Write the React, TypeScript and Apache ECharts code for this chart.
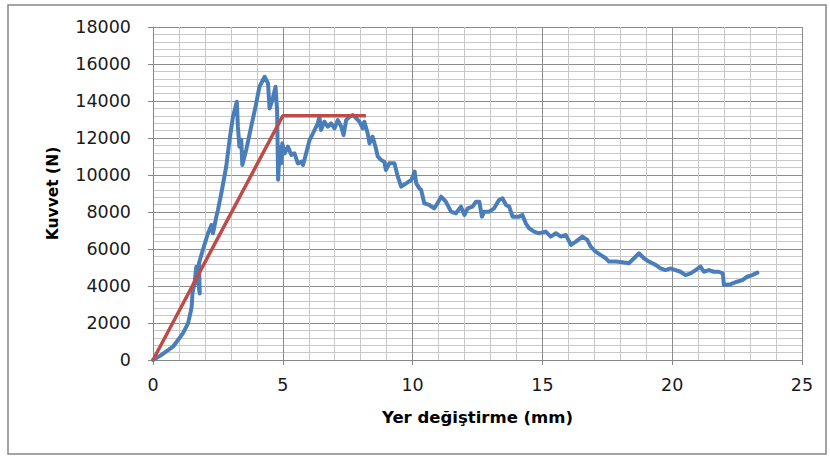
import React, { useEffect, useRef } from "react";
import * as echarts from "echarts";

const xTickLabels = ["0", "5", "10", "15", "20", "25"];
const yTickLabels = ["0", "2000", "4000", "6000", "8000", "10000", "12000", "14000", "16000", "18000"];

const blueX = [
  0, 0.3, 0.77, 1.0, 1.15, 1.35, 1.45, 1.49, 1.52, 1.6, 1.67, 1.72, 1.8, 1.77, 1.92, 2.12, 2.25, 2.31, 2.44, 2.5,
  2.63, 2.82, 2.95, 3.08, 3.23, 3.27, 3.33, 3.4, 3.44, 3.59, 3.78, 3.95, 4.1, 4.3, 4.43, 4.49, 4.6, 4.72, 4.78,
  4.82, 4.88, 4.94, 4.98, 5.07, 5.2, 5.33, 5.45, 5.58, 5.71, 5.78, 5.9, 6.03, 6.16, 6.35, 6.41, 6.47, 6.6, 6.73,
  6.86, 6.99, 7.12, 7.25, 7.34, 7.44, 7.57, 7.7, 7.83, 7.95, 8.08, 8.14, 8.27, 8.34, 8.46, 8.57, 8.66, 8.79, 8.91,
  8.97, 9.1, 9.3, 9.43, 9.56, 9.75, 9.95, 10.08, 10.14, 10.26, 10.33, 10.45, 10.64, 10.83, 10.96, 11.1, 11.28,
  11.48, 11.67, 11.86, 12.0, 12.12, 12.31, 12.44, 12.57, 12.67, 12.76, 12.95, 13.14, 13.33, 13.46, 13.6, 13.72,
  13.85, 14.1, 14.23, 14.36, 14.49, 14.68, 14.87, 15.13, 15.32, 15.52, 15.71, 15.9, 16.1, 16.29, 16.54, 16.73,
  16.86, 17.05, 17.24, 17.44, 17.56, 17.82, 18.08, 18.33, 18.53, 18.72, 18.91, 19.1, 19.36, 19.55, 19.74, 19.94,
  20.13, 20.32, 20.51, 20.71, 20.9, 21.09, 21.22, 21.41, 21.6, 21.79, 21.95, 21.99, 22.25, 22.5, 22.7, 22.89,
  23.08, 23.28,
];
const blueY = [
  0, 250, 720, 1150, 1440, 1980, 2600, 2880, 3600, 4150, 5040, 4400, 3600, 5230, 5950, 6850, 7300, 6850, 7750, 8100,
  9000, 10450, 11900, 13150, 13960, 12600, 11530, 11900, 10540, 11350, 12600, 13700, 14770, 15310, 14950, 13600,
  14050, 14770, 13500, 9750, 11500, 10630, 11710, 11170, 11530, 11080, 11170, 10630, 10720, 10540, 11170, 11890,
  12250, 12790, 13150, 12430, 12880, 12610, 12790, 12520, 12970, 12610, 12160, 12970, 13150, 13240, 13060, 12880,
  12520, 12880, 12250, 11710, 12070, 11530, 10990, 10810, 10720, 10270, 10630, 10630, 9910, 9370, 9550, 9730,
  10180, 9550, 9280, 9190, 8470, 8380, 8200, 8470, 8830, 8560, 8020, 7930, 8290, 7840, 8200, 8290, 8560, 8560,
  7750, 8020, 8020, 8200, 8650, 8740, 8380, 8290, 7750, 7750, 7840, 7390, 7120, 6940, 6850, 6940, 6670, 6850,
  6670, 6760, 6220, 6400, 6670, 6490, 6130, 5860, 5680, 5500, 5320, 5320, 5280, 5230, 5500, 5770, 5500, 5320,
  5140, 4950, 4860, 4950, 4860, 4770, 4590, 4680, 4860, 5050, 4770, 4860, 4770, 4770, 4680, 4050, 4100, 4230,
  4320, 4500, 4590, 4720,
];

const redX = [0, 5, 8.2];
const redY = [0, 13200, 13200];

export default function App() {
  const ref = useRef<HTMLDivElement>(null);
  useEffect(() => {
    document.body.style.margin = "0";
    const chart = echarts.init(ref.current!, null, { renderer: "svg" });
    const font = "'DejaVu Sans', 'Liberation Sans', sans-serif";
    const blueData = blueX.map((x, i) => [x, blueY[i]]);
    const redData = redX.map((x, i) => [x, redY[i]]);
    chart.setOption({
      animation: false,
      backgroundColor: "#ffffff",
      graphic: [
        {
          type: "rect",
          shape: { x: 8, y: 5, width: 818, height: 449 },
          style: { fill: "none", stroke: "#868686", lineWidth: 1.5 },
          silent: true,
        },
      ],
      grid: { left: 153, right: 28, top: 27, bottom: 99, containLabel: false },
      xAxis: {
        type: "value",
        min: 0,
        max: 25,
        interval: 5,
        name: "Yer değiştirme (mm)",
        nameLocation: "middle",
        nameGap: 49,
        nameTextStyle: { fontFamily: font, fontWeight: "bold", fontSize: 16.5, color: "#000" },
        axisLine: { show: true, lineStyle: { color: "#868686", width: 1 } },
        axisTick: { show: true, inside: false, length: 5, lineStyle: { color: "#868686" } },
        axisLabel: {
          fontFamily: font,
          fontSize: 17.5,
          color: "#1a1a1a",
          margin: 16,
          formatter: (v: number) => xTickLabels[Math.round(v / 5)] ?? String(v),
        },
        splitLine: { show: true, lineStyle: { color: "#8c8c8c", width: 1 } },
        minorTick: { show: false, splitNumber: 5 },
        minorSplitLine: { show: true, lineStyle: { color: "#c8c8c8", width: 1 } },
      },
      yAxis: {
        type: "value",
        min: 0,
        max: 18000,
        interval: 2000,
        name: "Kuvvet (N)",
        nameLocation: "middle",
        nameRotate: 90,
        nameGap: 92,
        nameTextStyle: { fontFamily: font, fontWeight: "bold", fontSize: 15.5, color: "#000" },
        axisLine: { show: true, lineStyle: { color: "#868686", width: 1 } },
        axisTick: { show: true, inside: false, length: 5, lineStyle: { color: "#868686" } },
        axisLabel: {
          fontFamily: font,
          fontSize: 17.5,
          color: "#1a1a1a",
          margin: 22,
          formatter: (v: number) => yTickLabels[Math.round(v / 2000)] ?? String(v),
        },
        splitLine: { show: true, lineStyle: { color: "#8c8c8c", width: 1 } },
        minorTick: { show: false, splitNumber: 5 },
        minorSplitLine: { show: true, lineStyle: { color: "#c8c8c8", width: 1 } },
      },
      series: [
        {
          type: "line",
          data: blueData,
          showSymbol: false,
          symbol: "none",
          lineStyle: { color: "#4a7ebb", width: 4, join: "round", cap: "round" },
          z: 2,
        },
        {
          type: "line",
          data: redData,
          showSymbol: false,
          symbol: "none",
          lineStyle: { color: "#be4b48", width: 3.5 },
          z: 3,
        },
      ],
    });
    return () => chart.dispose();
  }, []);
  return (
    <div
      ref={ref}
      style={{ position: "fixed", left: 0, top: 0, width: 830, height: 459 }}
    />
  );
}
